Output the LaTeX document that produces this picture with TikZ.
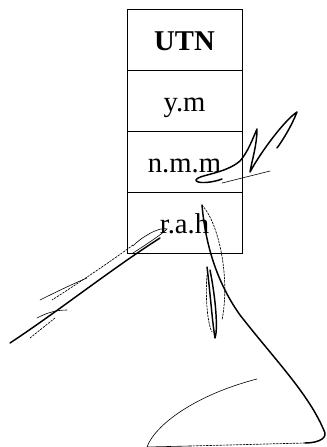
\documentclass[tikz,border=0pt]{standalone}
\usepackage{fontspec}
\setmainfont{Liberation Serif}
\begin{document}
\begin{tikzpicture}[x=0.75pt,y=-0.75pt,
  cell/.style={draw,line width=0.7pt,minimum width=86.25pt,minimum height=45.75pt,
    inner sep=0pt,outer sep=0pt,text height=17pt,text depth=1.25pt,
    font=\fontsize{21.5}{24}\selectfont},
  ink/.style={line width=1.1pt,line cap=round,line join=round},
  thinink/.style={line width=0.45pt,line cap=round},
  faint/.style={line width=0.5pt,dash pattern=on 1.5pt off 1pt,line cap=round}]
\useasboundingbox (0,0) rectangle (326,447);
\node[cell] (c1) at (184.5,39.5) {\bfseries UTN};
\node[cell] (c2) at (184.5,100.5) {y.m};
\node[cell] (c3) at (184.5,161.5) {n.m.m};
\node[cell] (c4) at (184.5,222.5) {r.a.h};
% signature near n.m.m
\draw[ink] (222,179) .. controls (212,183) and (196,184) .. (196,180)
  .. controls (197,175) and (225,174) .. (240,161)
  .. controls (248,152) and (253,138) .. (257,129)
  .. controls (257,145) and (252,160) .. (250,172)
  .. controls (262,150) and (285,120) .. (297,112)
  .. controls (292,125) and (283,140) .. (277,148);
\draw[thinink] (222,183) -- (270,171);
% signature lower left
\draw[ink] (10,343) .. controls (60,310) and (110,270) .. (160,238);
\draw[thinink] (133,253) .. controls (150,242) and (162,234) .. (167,229)
  .. controls (160,226) and (140,238) .. (133,246);
\draw[faint] (133,245) .. controls (110,262) and (80,282) .. (52,300);
\draw[thinink] (40,300) .. controls (60,290) and (75,283) .. (87,278);
\draw[thinink] (37,318) .. controls (48,312) and (58,310) .. (67,310);
\draw[faint] (30,338) -- (55,318);
% big loop signature
\draw[ink] (202,205) .. controls (205,240) and (215,280) .. (240,315)
  .. controls (275,360) and (310,395) .. (325,433)
  .. controls (326,440) and (315,443) .. (305,443);
\draw[faint] (305,443) -- (190,446);
\draw[thinink] (190,446) -- (147,447) .. controls (155,425) and (195,395) .. (257,379);
\draw[faint] (202,205) .. controls (220,225) and (230,280) .. (222,320);
\draw[ink] (207,267) .. controls (210,290) and (212,320) .. (215,338)
  .. controls (218,330) and (216,300) .. (210,270);
\draw[faint] (207,275) .. controls (205,300) and (208,325) .. (212,332);
\end{tikzpicture}
\end{document}
